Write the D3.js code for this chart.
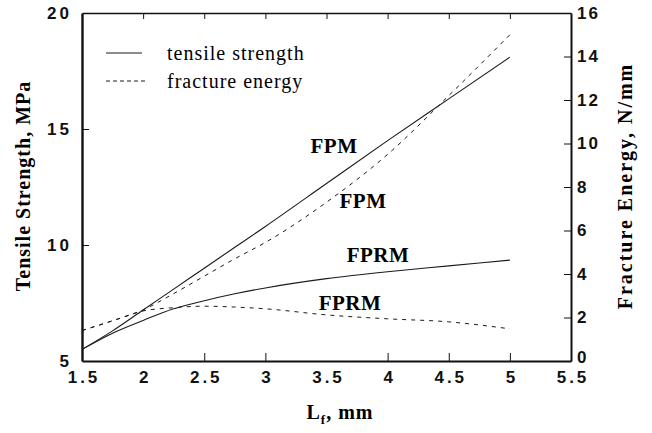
<!DOCTYPE html>
<html>
<head>
<meta charset="utf-8">
<script src="https://cdn.jsdelivr.net/npm/d3@7"></script>
<style>
  body { margin: 0; background: #fff; }
  svg { display: block; font-family: "Liberation Serif", "Times New Roman", serif; }
  .axis path, .axis line { stroke: #111; }
  .axis text { font-size: 17px; font-weight: bold; fill: #111; }
</style>
</head>
<body>
<svg width="652" height="433"></svg>
<script>
// DATA

  var lengths = [1.5, 1.75, 2, 2.25, 2.5, 2.75, 3, 3.5, 4, 4.5, 5];
  var strengthFPM  = [5.5, 6.3, 7.2, 8.1, 9.0, 9.9, 10.8, 12.65, 14.5, 16.3, 18.1];
  var strengthFPRM = [5.5, 6.2, 6.75, 7.25, 7.6, 7.9, 8.15, 8.55, 8.85, 9.1, 9.35];
  var energyFPM    = [1.4, 1.85, 2.35, 3.1, 3.9, 4.7, 5.45, 7.3, 9.5, 12.2, 15.0];
  var energyFPRM   = [1.4, 1.85, 2.3, 2.45, 2.52, 2.48, 2.4, 2.12, 1.94, 1.8, 1.48];

  var xTicks = [1.5, 2, 2.5, 3, 3.5, 4, 4.5, 5, 5.5];
  var leftTicks = [5, 10, 15, 20];
  var rightTicks = [0, 2, 4, 6, 8, 10, 12, 14, 16];

// SETUP

  var svg = d3.select("svg"),
    margin = { top: 13, right: 81, bottom: 72, left: 82 },
    width = 652 - margin.left - margin.right,
    height = 433 - margin.top - margin.bottom;

  var x = d3.scaleLinear().domain([1.5, 5.5]).range([0, width]),
    yL = d3.scaleLinear().domain([5, 20]).range([height, 0]),
    yR = d3.scaleLinear().domain([0, 16]).range([height, 0]);

  var g = svg.append("g")
    .attr("transform", "translate(" + margin.left + "," + margin.top + ")");

  var fmt = function (d) { return String(d); };

  // bottom
  g.append("g")
    .attr("class", "axis")
    .attr("transform", "translate(0," + height + ")")
    .call(d3.axisBottom(x).tickValues(xTicks).tickFormat(fmt).tickSizeInner(-8).tickSizeOuter(0).tickPadding(10))
    .call(function (s) { s.selectAll("line").filter(function (d) { return d == 1.5 || d == 5.5 || d == 3.5 || d == 2; }).remove(); })
    .call(function (s) { s.selectAll("text").style("letter-spacing", "3px").attr("dx", "1.5"); })
    .call(function (s) { s.select(".domain").attr("stroke-width", 2.2); });

  // top
  g.append("g")
    .attr("class", "axis")
    .call(d3.axisTop(x).tickValues(xTicks.slice(1, -1)).tickFormat("").tickSizeInner(-6).tickSizeOuter(0))
    .call(function (s) { s.select(".domain").attr("stroke-width", 1.6); });

  // left
  g.append("g")
    .attr("class", "axis")
    .call(d3.axisLeft(yL).tickValues(leftTicks).tickFormat(fmt).tickSizeInner(-7).tickSizeOuter(0).tickPadding(10))
    .call(function (s) { s.selectAll("line").filter(function (d) { return d == 5 || d == 20; }).remove(); })
    .call(function (s) { s.selectAll("text").style("letter-spacing", "3px"); })
    .call(function (s) { s.select(".domain").attr("stroke-width", 2.4); });

  // right
  g.append("g")
    .attr("class", "axis")
    .attr("transform", "translate(" + width + ",0)")
    .call(d3.axisRight(yR).tickValues(rightTicks).tickFormat(fmt).tickSizeInner(-7).tickSizeOuter(0).tickPadding(6))
    .call(function (s) { s.selectAll("line").filter(function (d) { return d == 0 || d == 16; }).remove(); })
    .call(function (s) {
      s.selectAll("text").style("letter-spacing", "2px")
        .filter(function (d) { return d == 0; }).attr("dy", "0.1em");
    })
    .call(function (s) { s.select(".domain").attr("stroke-width", 2); });

// CURVES

  var strengthLine = d3.line()
    .x(function (d) { return x(d[0]); })
    .y(function (d) { return yL(d[1]); })
    .curve(d3.curveMonotoneX);

  var energyLine = d3.line()
    .x(function (d) { return x(d[0]); })
    .y(function (d) { return yR(d[1]); })
    .curve(d3.curveMonotoneX);

  function pairs(vals) { return lengths.map(function (l, i) { return [l, vals[i]]; }); }

  [strengthFPM, strengthFPRM].forEach(function (s) {
    g.append("path")
      .datum(pairs(s))
      .attr("fill", "none")
      .attr("stroke", "#1a1a1a")
      .attr("stroke-width", 1.1)
      .attr("d", strengthLine);
  });

  [energyFPM, energyFPRM].forEach(function (s) {
    g.append("path")
      .datum(pairs(s))
      .attr("fill", "none")
      .attr("stroke", "#1a1a1a")
      .attr("stroke-width", 1)
      .attr("stroke-dasharray", "4,5")
      .attr("d", energyLine);
  });

// LABELS

  var labels = [
    { text: "FPM", x: 334, y: 153 },
    { text: "FPM", x: 363, y: 208 },
    { text: "FPRM", x: 378, y: 262 },
    { text: "FPRM", x: 350, y: 310 }
  ];

  svg.selectAll(".curve-label")
    .data(labels)
    .enter().append("text")
    .attr("class", "curve-label")
    .attr("x", function (d) { return d.x; })
    .attr("y", function (d) { return d.y; })
    .attr("text-anchor", "middle")
    .style("font-size", "21px")
    .style("font-weight", "bold")
    .style("letter-spacing", "0.5px")
    .text(function (d) { return d.text; });

  // legend
  var legend = svg.append("g");
  legend.append("line").attr("x1", 106).attr("x2", 142).attr("y1", 53).attr("y2", 53)
    .attr("stroke", "#1a1a1a").attr("stroke-width", 1);
  legend.append("line").attr("x1", 106).attr("x2", 147).attr("y1", 81).attr("y2", 81)
    .attr("stroke", "#1a1a1a").attr("stroke-width", 1).attr("stroke-dasharray", "4,3");
  legend.append("text").attr("x", 167).attr("y", 60).style("font-size", "20px")
    .style("letter-spacing", "1px").text("tensile strength");
  legend.append("text").attr("x", 167).attr("y", 88).style("font-size", "20px")
    .style("letter-spacing", "1px").text("fracture energy");

  // axis titles
  svg.append("text")
    .attr("transform", "translate(30,186) rotate(-90)")
    .attr("text-anchor", "middle")
    .style("font-size", "20px").style("font-weight", "bold").style("letter-spacing", "1px")
    .text("Tensile Strength, MPa");

  svg.append("text")
    .attr("transform", "translate(632,186) rotate(-90)")
    .attr("text-anchor", "middle")
    .style("font-size", "20px").style("font-weight", "bold").style("letter-spacing", "2px")
    .text("Fracture Energy, N/mm");

  var xt = svg.append("text")
    .attr("x", 340).attr("y", 419)
    .attr("text-anchor", "middle")
    .style("font-size", "20px").style("font-weight", "bold").style("letter-spacing", "1px");
  xt.append("tspan").text("L");
  xt.append("tspan").attr("dy", 5).style("font-size", "13px").text("f");
  xt.append("tspan").attr("dy", -5).text(", mm");
</script>
</body>
</html>
